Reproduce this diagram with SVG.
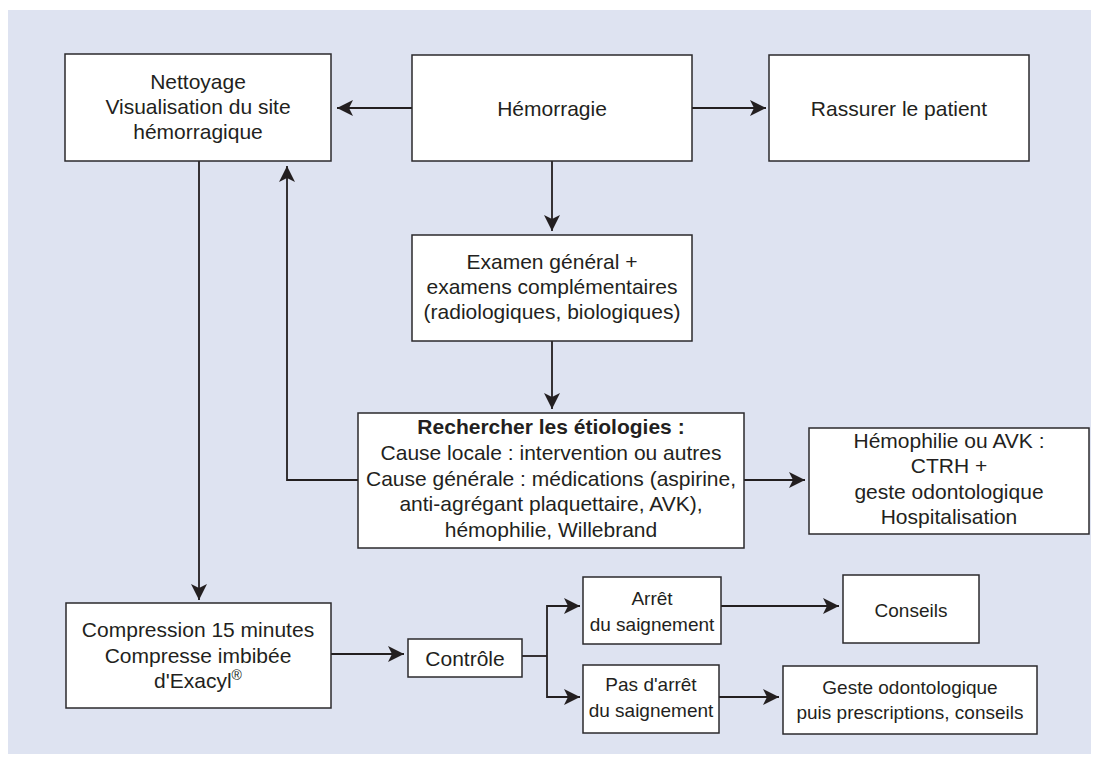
<svg xmlns="http://www.w3.org/2000/svg" width="1099" height="763" viewBox="0 0 1099 763">
  <style>
    .box { fill: #ffffff; stroke: #2b2a2c; stroke-width: 1.5; }
    .lbl { font-family: "Liberation Sans", Arial, Helvetica, sans-serif; font-size: 21px; fill: #231f20; text-anchor: middle; }
    .sm { font-size: 19px; }
    .b { font-weight: bold; }
    .wire { fill: none; stroke: #231f20; stroke-width: 1.8; }
    .wire.arr { marker-end: url(#head); }
  </style>
  <defs>
    <marker id="head" markerUnits="userSpaceOnUse" markerWidth="17" markerHeight="17" refX="16" refY="8" orient="auto">
      <path d="M0,0 L16,8 L0,16 L4,8 z" fill="#231f20"/>
    </marker>
  </defs>

  <!-- panel background -->
  <rect x="8" y="10" width="1083" height="744" fill="#dee3f1"/>

  <g id="connectors">
    <path class="wire arr" d="M412,108 H337"/>
    <path class="wire arr" d="M692,108 H766"/>
    <path class="wire arr" d="M552,161 V231"/>
    <path class="wire arr" d="M552,341 V409"/>
    <path class="wire arr" d="M358,480 H287 V166"/>
    <path class="wire arr" d="M744,480 H805"/>
    <path class="wire arr" d="M199,161 V600"/>
    <path class="wire arr" d="M331,654 H404"/>
    <path class="wire" d="M522,656 H547"/>
    <path class="wire arr" d="M547,656 V606 H580"/>
    <path class="wire arr" d="M547,656 V697 H580"/>
    <path class="wire arr" d="M721,606 H839"/>
    <path class="wire arr" d="M719,697 H779"/>
  </g>

  <g id="nettoyage">
    <rect class="box" x="65" y="54" width="266" height="107"/>
    <text class="lbl" x="198" y="89">Nettoyage</text>
    <text class="lbl" x="198" y="114">Visualisation du site</text>
    <text class="lbl" x="198" y="139">hémorragique</text>
  </g>

  <g id="hemorragie">
    <rect class="box" x="412" y="55" width="280" height="106"/>
    <text class="lbl" x="552" y="116">Hémorragie</text>
  </g>

  <g id="rassurer">
    <rect class="box" x="769" y="55" width="260" height="106"/>
    <text class="lbl" x="899" y="116">Rassurer le patient</text>
  </g>

  <g id="examen">
    <rect class="box" x="412" y="235" width="280" height="106"/>
    <text class="lbl" x="552" y="269">Examen général +</text>
    <text class="lbl" x="552" y="294">examens complémentaires</text>
    <text class="lbl" x="552" y="319">(radiologiques, biologiques)</text>
  </g>

  <g id="etiologies">
    <rect class="box" x="358" y="413" width="386" height="135"/>
    <text class="lbl b" x="551" y="434">Rechercher les étiologies :</text>
    <text class="lbl" x="551" y="460">Cause locale : intervention ou autres</text>
    <text class="lbl" x="551" y="486">Cause générale : médications (aspirine,</text>
    <text class="lbl" x="551" y="511">anti-agrégant plaquettaire, AVK),</text>
    <text class="lbl" x="551" y="537">hémophilie, Willebrand</text>
  </g>

  <g id="hemophilie">
    <rect class="box" x="809" y="428" width="280" height="106"/>
    <text class="lbl" x="949" y="448">Hémophilie ou AVK :</text>
    <text class="lbl" x="949" y="473">CTRH +</text>
    <text class="lbl" x="949" y="499">geste odontologique</text>
    <text class="lbl" x="949" y="524">Hospitalisation</text>
  </g>

  <g id="compression">
    <rect class="box" x="66" y="603" width="265" height="105"/>
    <text class="lbl" x="198" y="637">Compression 15 minutes</text>
    <text class="lbl" x="198" y="663">Compresse imbibée</text>
    <text class="lbl" x="198" y="688">d'Exacyl<tspan font-size="14" dy="-8">®</tspan></text>
  </g>

  <g id="controle">
    <rect class="box" x="408" y="639" width="114" height="38"/>
    <text class="lbl" x="465" y="666">Contrôle</text>
  </g>

  <g id="arret">
    <rect class="box" x="583" y="577" width="138" height="67"/>
    <text class="lbl sm" x="652" y="605">Arrêt</text>
    <text class="lbl sm" x="652" y="631">du saignement</text>
  </g>

  <g id="pas-arret">
    <rect class="box" x="583" y="665" width="136" height="68"/>
    <text class="lbl sm" x="651" y="691">Pas d'arrêt</text>
    <text class="lbl sm" x="651" y="717">du saignement</text>
  </g>

  <g id="conseils">
    <rect class="box" x="843" y="575" width="136" height="68"/>
    <text class="lbl sm" x="911" y="617">Conseils</text>
  </g>

  <g id="geste">
    <rect class="box" x="783" y="666" width="254" height="68"/>
    <text class="lbl sm" x="910" y="694">Geste odontologique</text>
    <text class="lbl sm" x="910" y="719">puis prescriptions, conseils</text>
  </g>
</svg>
